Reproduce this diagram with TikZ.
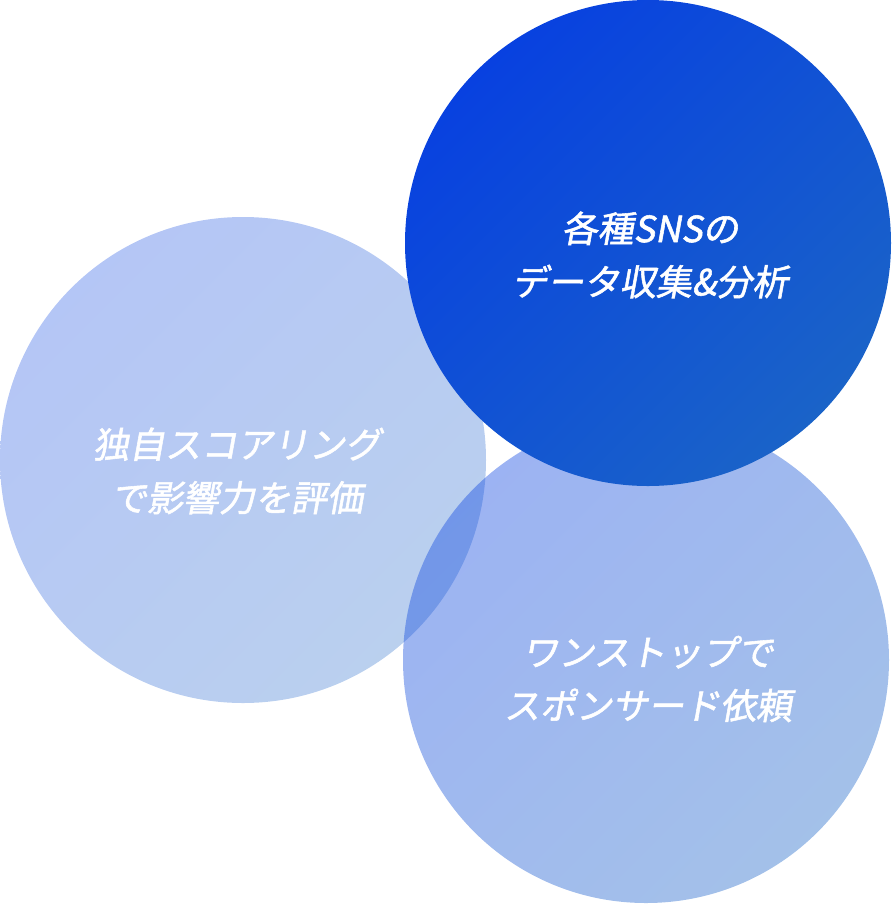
\documentclass[tikz,border=0pt]{standalone}
\usepackage{fontspec}
\newfontfamily\jp[FakeSlant=0.18,FakeBold=1.5]{Noto Sans CJK JP}
\definecolor{ca}{HTML}{0841E0}
\definecolor{cb}{HTML}{1A63C8}
\tikzset{circ/.style={shading=axis,top color=ca,bottom color=cb,shading angle=45},
 lab/.style={text=white,font=\jp\fontsize{27}{40}\selectfont,align=center}}
\begin{document}
\begin{tikzpicture}[x=0.75pt,y=-0.75pt]
\useasboundingbox (0,0) rectangle (892,904);
\shade[circ,fill opacity=0.3] (243,460) circle (243);
\shade[circ,fill opacity=0.4] (646,660) circle (243);
\shade[circ] (648,243) circle (243);
\node[lab] (l) at (237,471) {独自スコアリング\\で影響力を評価};
\node[lab] (t) at (650,255) {各種SNSの\\データ収集\&分析};
\node[lab] (b) at (648,679) {ワンストップで\\スポンサード依頼};
\end{tikzpicture}
\end{document}
